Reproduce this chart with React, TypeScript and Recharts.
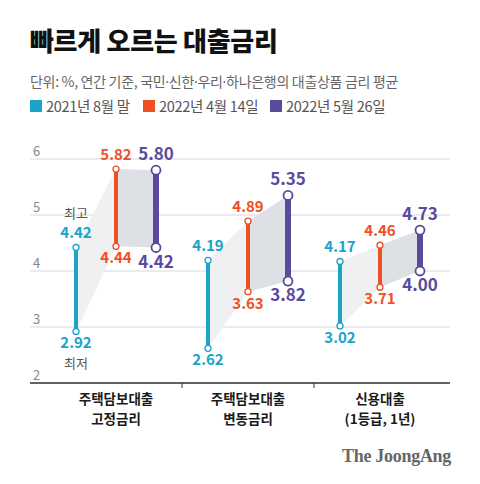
import React from "react";
import { BarChart, Bar, XAxis, YAxis, CartesianGrid } from "recharts";

// 값: [최저, 최고] (%)
const categories = [
  ["주택담보대출", "고정금리"],
  ["주택담보대출", "변동금리"],
  ["신용대출", "(1등급, 1년)"],
];
const aug2021 = [[2.92, 4.42], [2.62, 4.19], [3.02, 4.17]];
const apr2022 = [[4.44, 5.82], [3.63, 4.89], [3.71, 4.46]];
const may2022 = [[4.42, 5.8], [3.82, 5.35], [4.0, 4.73]];
const seriesNames = ["2021년 8월 말", "2022년 4월 14일", "2022년 5월 26일"];
const yTicks = [2, 3, 4, 5, 6];

const FONT = "'Noto Sans CJK KR', 'Noto Sans', sans-serif";
const BAR_SIZE = 20;
const BAR_GAP = 20;

const SERIES = [
  { key: "s0", color: "#1ba3c9", w: 4, r: 3, fs: 15, sw: 1.3 },
  { key: "s1", color: "#f04f24", w: 4, r: 3, fs: 15, sw: 1.3 },
  { key: "s2", color: "#5a4a9c", w: 6, r: 4.5, fs: 17, sw: 1.8 },
];
const BAND_FILL = ["#eef0f2", "#dde1e5"];

const data = categories.map((c, i) => ({
  name: c.join("\n"),
  s0: aug2021[i],
  s1: apr2022[i],
  s2: may2022[i],
}));

const fmt = (v: number) => v.toFixed(2);

const makeShape = (k: number) => (props: any) => {
  const { x, y, width, height, payload, index } = props;
  const [lo, hi] = payload[SERIES[k].key];
  const top = Math.min(y, y + height);
  const h = Math.abs(height);
  const bot = top + h;
  const ppu = h / (hi - lo);
  const cx = x + width / 2;
  const toY = (v: number) => top + (hi - v) * ppu;
  const st = SERIES[k];
  let poly = null;
  if (k < SERIES.length - 1) {
    const [nlo, nhi] = payload[SERIES[k + 1].key];
    const nx = cx + width + BAR_GAP;
    poly = (
      <polygon
        points={`${cx},${top} ${nx},${toY(nhi)} ${nx},${toY(nlo)} ${cx},${bot}`}
        fill={BAND_FILL[k]}
      />
    );
  }
  const topBase = top - st.r - 6;
  const botBase = bot + st.r + st.fs * 0.8 + 2;
  return (
    <g>
      {poly}
      <rect x={cx - st.w / 2} y={top} width={st.w} height={h} fill={st.color} />
      <circle cx={cx} cy={top} r={st.r} fill="#fff" stroke={st.color} strokeWidth={st.sw} />
      <circle cx={cx} cy={bot} r={st.r} fill="#fff" stroke={st.color} strokeWidth={st.sw} />
      <text x={cx} y={topBase} textAnchor="middle" fill={st.color} fontSize={st.fs} fontWeight={700} fontFamily={FONT}>
        {fmt(hi)}
      </text>
      <text x={cx} y={botBase} textAnchor="middle" fill={st.color} fontSize={st.fs} fontWeight={700} fontFamily={FONT}>
        {fmt(lo)}
      </text>
      {k === 0 && index === 0 && (
        <>
          <text x={cx} y={topBase - 20} textAnchor="middle" fill="#555" fontSize={13} fontFamily={FONT}>
            최고
          </text>
          <text x={cx} y={botBase + 19.5} textAnchor="middle" fill="#555" fontSize={13} fontFamily={FONT}>
            최저
          </text>
        </>
      )}
    </g>
  );
};

const XTick = (props: any) => {
  const { x, y, payload, index } = props;
  const lines = String(payload.value).split("\n");
  const half = payload.offset ?? 0;
  return (
    <g>
      {index < categories.length - 1 && (
        <line x1={x + half} x2={x + half} y1={y} y2={y + 5} stroke="#333" strokeWidth={1} />
      )}
      {lines.map((l, i) => (
        <text key={i} x={x} y={y + 21 + i * 19.5} textAnchor="middle" fill="#1a1a1a" fontSize={13.5} fontWeight={700} fontFamily={FONT}>
          {l}
        </text>
      ))}
    </g>
  );
};

const YTick = (props: any) => {
  const { x, y, payload } = props;
  return (
    <text x={x + 3} y={y - 3} textAnchor="start" fill="#888" fontSize={13} fontFamily={FONT}>
      {payload.value}
    </text>
  );
};

const dot = (s: string) =>
  s.split("·").map((p, i) => (
    <React.Fragment key={i}>
      {i > 0 && <tspan fontFamily="'Noto Sans', sans-serif">·</tspan>}
      {p}
    </React.Fragment>
  ));

export default function App() {
  return (
    <div style={{ position: "absolute", left: 0, top: 0, width: 480, height: 484, background: "#fff" }}>
      <svg width={480} height={484} style={{ position: "absolute", left: 0, top: 0 }}>
        <text x={30} y={51} fontSize={26} fontWeight={900} fill="#111" fontFamily={FONT} letterSpacing={-0.3}>
          빠르게 오르는 대출금리
        </text>
        <text x={30} y={87} fontSize={14} fill="#666" fontFamily={FONT} letterSpacing={-0.3}>
          {dot("단위: %, 연간 기준, 국민·신한·우리·하나은행의 대출상품 금리 평균")}
        </text>
        {seriesNames.map((n, i) => {
          const lx = [30, 143, 270][i];
          return (
            <g key={n}>
              <rect x={lx} y={100} width={12} height={12} fill={SERIES[i].color} />
              <text x={lx + 16} y={112} fontSize={14.5} fill="#555" fontFamily={FONT} letterSpacing={-0.3}>
                {n}
              </text>
            </g>
          );
        })}
        <text x={451} y={462} textAnchor="end" fontSize={18} fontWeight={700} fill="#666" fontFamily="'Liberation Serif', serif" letterSpacing={-0.3}>
          The JoongAng
        </text>
      </svg>
      <div style={{ position: "absolute", left: 0, top: 0 }}>
        <BarChart
          width={480}
          height={484}
          data={data}
          margin={{ top: 159, right: 30, bottom: 41, left: 0 }}
          barGap={BAR_GAP}
        >
          <CartesianGrid vertical={false} stroke="#d5d8dc" />
          <XAxis
            dataKey="name"
            interval={0}
            height={60}
            padding={{ left: 20, right: 4 }}
            axisLine={{ stroke: "#333", strokeWidth: 1.5 }}
            tickLine={false}
            tickSize={0}
            tickMargin={0}
            tick={<XTick />}
          />
          <YAxis
            domain={[2, 6]}
            ticks={yTicks}
            width={30}
            axisLine={false}
            tickLine={false}
            tickSize={0}
            tickMargin={0}
            tick={<YTick />}
          />
          {SERIES.map((s, k) => (
            <Bar
              key={s.key}
              dataKey={s.key}
              name={seriesNames[k]}
              barSize={BAR_SIZE}
              fill={s.color}
              isAnimationActive={false}
              shape={makeShape(k)}
            />
          ))}
        </BarChart>
      </div>
    </div>
  );
}
